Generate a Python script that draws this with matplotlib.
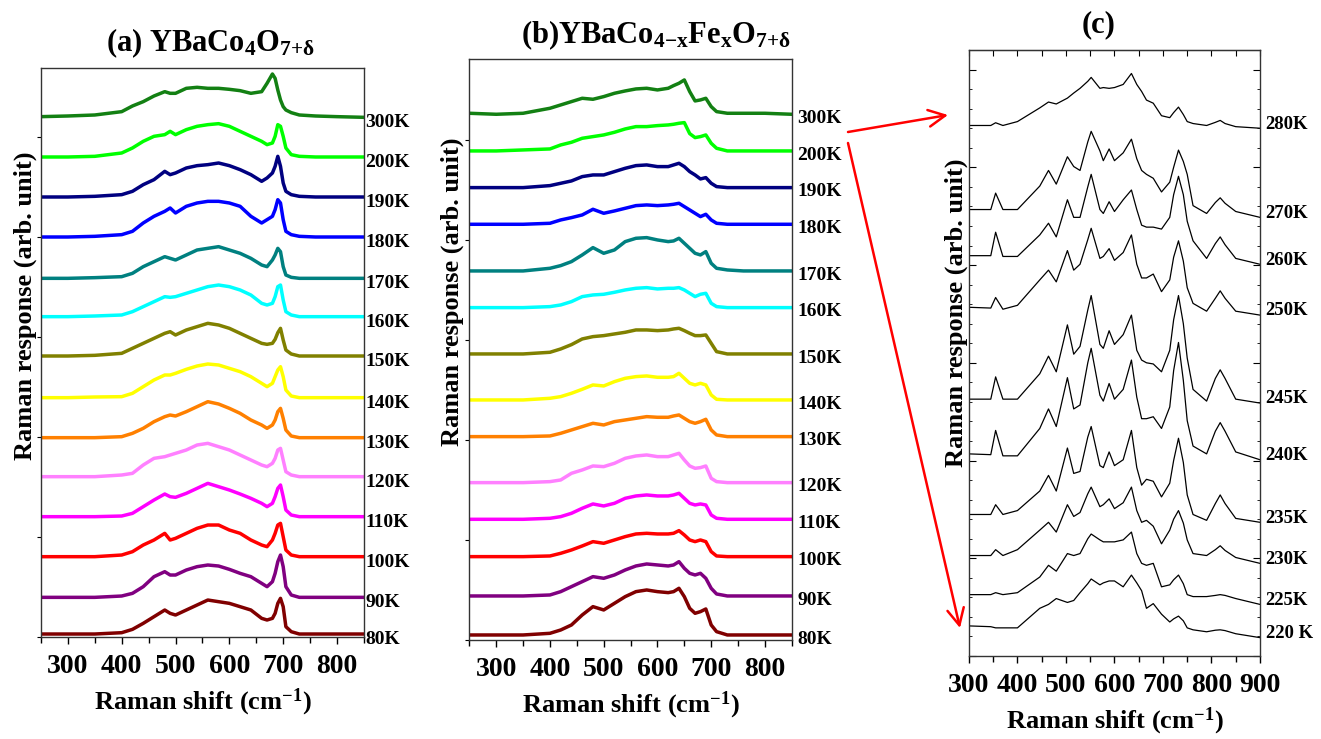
import matplotlib
matplotlib.use("Agg")
import matplotlib.pyplot as plt
from matplotlib.patches import FancyArrowPatch
from matplotlib.ticker import MultipleLocator, NullFormatter

plt.rcParams['font.family'] = ['Liberation Serif', 'DejaVu Serif']
plt.rcParams['font.weight'] = 'bold'
plt.rcParams['mathtext.fontset'] = 'custom'
plt.rcParams['mathtext.rm'] = 'Liberation Serif:bold'
plt.rcParams['mathtext.bf'] = 'Liberation Serif:bold'
plt.rcParams['mathtext.it'] = 'Liberation Serif:bold'
plt.rcParams['mathtext.default'] = 'bf'

# ---------------- panel (a) YBaCo4O7+d ----------------
temps_ab = ['300K', '200K', '190K', '180K', '170K', '160K', '150K',
            '140K', '130K', '120K', '110K', '100K', '90K', '80K']
colors_ab = ['#138013', '#00ff00', '#000080', '#0000ff', '#008080', '#00ffff', '#808000',
             '#ffff00', '#ff8000', '#ff80ff', '#ff00ff', '#ff0000', '#800080', '#800000']

shift_a = [250, 300, 350, 400, 420, 440, 460, 480, 490, 500, 520, 540, 560, 580, 600,
           620, 640, 660, 670, 680, 685, 690, 695, 700, 705, 715, 730, 760, 800, 850]
offset_a = [1561, 1440, 1320, 1200, 1076, 961, 843, 718, 598, 481, 361, 241, 119, 9]

a_300K = [0, 2, 5, 15, 32, 45, 62, 75, 70, 70, 85, 88, 85, 85, 82, 78, 70, 75, 100, 128, 115, 80, 50, 30, 20, 12, 5, 2, 0, -2]
a_200K = [0, 0, 2, 12, 27, 47, 62, 67, 77, 67, 82, 92, 97, 100, 92, 77, 62, 47, 37, 42, 62, 97, 92, 62, 27, 7, 2, 0, 0, 0]
a_190K = [0, 0, 2, 7, 17, 37, 52, 77, 67, 72, 87, 94, 97, 102, 94, 82, 67, 47, 57, 72, 92, 122, 92, 42, 17, 7, 2, 0, 0, 0]
a_180K = [0, 0, 2, 7, 17, 42, 62, 77, 87, 72, 92, 102, 107, 107, 102, 92, 62, 42, 52, 62, 82, 112, 102, 52, 17, 7, 2, 0, 0, 0]
a_170K = [0, 0, 2, 5, 15, 35, 50, 65, 60, 55, 70, 85, 90, 95, 85, 75, 60, 40, 35, 55, 70, 90, 80, 35, 10, 3, 0, 0, 0, 0]
a_160K = [0, 0, 2, 5, 15, 30, 45, 60, 58, 60, 70, 80, 90, 95, 90, 80, 65, 40, 35, 40, 60, 90, 95, 50, 15, 5, 0, 0, 0, 0]
a_150K = [0, 0, 2, 8, 23, 38, 53, 68, 73, 63, 78, 88, 98, 93, 83, 68, 53, 38, 35, 38, 50, 70, 83, 48, 18, 6, 0, 0, 0, 0]
a_140K = [0, 0, 2, 3, 13, 33, 53, 68, 68, 73, 85, 95, 101, 98, 88, 78, 63, 43, 33, 43, 63, 83, 93, 63, 23, 5, 0, 0, 0, 0]
a_130K = [0, 0, 0, 3, 13, 28, 48, 63, 68, 65, 78, 93, 108, 101, 88, 73, 53, 38, 28, 38, 53, 78, 88, 58, 23, 5, 0, 0, 0, 0]
a_120K = [0, 0, 0, 5, 10, 35, 55, 60, 65, 70, 80, 95, 100, 90, 80, 65, 50, 35, 30, 40, 55, 80, 85, 50, 15, 5, 0, 0, 0, 0]
a_110K = [0, 0, 0, 2, 10, 30, 50, 68, 60, 58, 70, 85, 100, 90, 80, 68, 55, 40, 30, 40, 60, 85, 95, 60, 20, 5, 0, 0, 0, 0]
a_100K = [0, 0, 0, 5, 15, 35, 50, 70, 50, 55, 70, 85, 95, 95, 80, 70, 50, 35, 30, 50, 70, 95, 100, 60, 20, 5, 0, 0, 0, 0]
a_90K = [0, 0, 0, 4, 12, 32, 62, 77, 67, 67, 82, 92, 97, 94, 84, 72, 62, 42, 32, 47, 72, 107, 127, 92, 32, 7, 0, 0, 0, 0]
a_80K = [0, 0, 0, 4, 14, 32, 52, 72, 62, 57, 72, 87, 102, 97, 92, 82, 72, 47, 42, 47, 62, 92, 107, 82, 22, 7, 0, 0, 0, 0]
spectra_a = [a_300K, a_200K, a_190K, a_180K, a_170K, a_160K, a_150K,
             a_140K, a_130K, a_120K, a_110K, a_100K, a_90K, a_80K]

# ---------------- panel (b) YBaCo4-xFexO7+d ----------------
shift_b = [250, 300, 350, 400, 420, 440, 460, 480, 500, 520, 540, 560, 580, 600,
           620, 630, 640, 650, 660, 670, 680, 690, 700, 710, 730, 760, 800, 850]
offset_b = [1580, 1467, 1357, 1247, 1107, 997, 858, 720, 610, 472, 362, 250, 132, 15]

b_300K = [0, -3, 0, 15, 25, 35, 45, 42, 50, 60, 67, 73, 75, 70, 75, 83, 90, 100, 65, 37, 40, 45, 20, 5, 0, 0, 0, -3]
b_200K = [0, 0, 3, 6, 18, 26, 38, 43, 48, 56, 66, 73, 73, 76, 78, 80, 83, 85, 52, 40, 43, 48, 23, 8, 0, 0, 0, 0]
b_190K = [0, 0, 0, 6, 13, 20, 33, 38, 38, 48, 58, 66, 68, 63, 63, 68, 73, 63, 48, 38, 26, 30, 13, 3, 0, 0, 0, 0]
b_180K = [0, 0, 0, 3, 13, 20, 28, 45, 33, 40, 48, 56, 58, 56, 58, 60, 63, 53, 43, 33, 23, 30, 13, 3, 0, 0, 0, 0]
b_170K = [0, 0, 0, 8, 16, 28, 48, 70, 53, 63, 88, 98, 100, 93, 88, 90, 98, 83, 68, 53, 48, 58, 23, 8, 3, 0, 0, 0]
b_160K = [0, 0, 0, 3, 8, 18, 33, 38, 40, 46, 53, 58, 60, 56, 58, 58, 60, 53, 43, 33, 40, 43, 13, 3, 0, 0, 0, 0]
b_150K = [0, 0, 0, 5, 15, 28, 45, 52, 55, 60, 65, 72, 72, 70, 72, 75, 77, 70, 62, 55, 55, 57, 32, 7, 0, 0, 0, 0]
b_140K = [0, 0, 0, 5, 10, 20, 32, 45, 42, 55, 65, 70, 72, 68, 68, 70, 80, 65, 50, 45, 50, 45, 15, 2, 0, 0, 0, 0]
b_130K = [0, 0, 0, 2, 10, 20, 30, 40, 35, 45, 50, 55, 60, 58, 58, 62, 65, 55, 45, 40, 45, 52, 20, 5, 0, 0, 0, 0]
b_120K = [0, 0, 0, 3, 8, 28, 38, 50, 48, 58, 73, 80, 83, 78, 78, 83, 88, 68, 50, 43, 45, 50, 13, 3, 0, 0, 0, 0]
b_110K = [0, 0, 0, 3, 8, 18, 33, 46, 40, 48, 63, 70, 73, 70, 70, 73, 78, 63, 48, 43, 46, 43, 13, 3, 0, 0, 0, 0]
b_100K = [0, 0, 0, 2, 10, 20, 32, 45, 40, 50, 60, 68, 70, 68, 68, 70, 78, 65, 50, 45, 50, 45, 15, 2, 0, 0, 0, 0]
b_90K = [0, 0, 0, 3, 13, 28, 43, 58, 53, 63, 78, 90, 96, 93, 90, 93, 103, 83, 68, 63, 68, 53, 23, 6, 0, 0, 0, 0]
b_80K = [0, 0, 0, 5, 15, 30, 60, 85, 75, 95, 115, 130, 135, 130, 127, 130, 140, 115, 80, 65, 70, 78, 30, 10, 0, 0, 0, 0]
spectra_b = [b_300K, b_200K, b_190K, b_180K, b_170K, b_160K, b_150K,
             b_140K, b_130K, b_120K, b_110K, b_100K, b_90K, b_80K]

# ---------------- panel (c) zoom of the transition region ----------------
temps_c = ['280K', '270K', '260K', '250K', '245K', '240K', '235K', '230K', '225K', '220 K']
shift_c = [300, 345, 355, 370, 400, 446, 464, 480, 503, 516, 529, 545, 552, 570, 577, 589, 600, 618,
           635, 646, 656, 666, 680, 697, 714, 722, 732, 742, 750, 762, 790, 808, 818, 828, 850, 900]

c_280K = [1357, 1357, 1364, 1357, 1367, 1402, 1417, 1412, 1427, 1440, 1452, 1470, 1480, 1452, 1454, 1452, 1454, 1462,
          1490, 1462, 1444, 1422, 1414, 1382, 1377, 1390, 1404, 1385, 1367, 1362, 1357, 1365, 1370, 1362, 1354, 1350]
c_270K = [1142, 1142, 1184, 1142, 1142, 1202, 1242, 1207, 1277, 1252, 1242, 1315, 1342, 1292, 1267, 1297, 1267, 1287,
          1322, 1272, 1242, 1232, 1222, 1187, 1212, 1250, 1294, 1265, 1232, 1152, 1132, 1160, 1172, 1158, 1137, 1122]
c_260K = [1024, 1024, 1084, 1022, 1022, 1077, 1107, 1072, 1167, 1122, 1122, 1200, 1232, 1142, 1132, 1162, 1137, 1167,
          1192, 1142, 1102, 1097, 1097, 1092, 1122, 1180, 1227, 1180, 1112, 1062, 1017, 1055, 1072, 1052, 1017, 1002]
c_250K = [892, 890, 917, 887, 897, 962, 987, 957, 1037, 987, 1002, 1065, 1094, 1017, 1022, 1042, 1012, 1032,
          1077, 1002, 967, 967, 977, 932, 962, 1020, 1062, 1010, 942, 902, 882, 915, 934, 915, 882, 872]
c_245K = [657, 657, 714, 657, 657, 722, 767, 727, 847, 772, 792, 885, 922, 797, 787, 832, 797, 822,
          872, 782, 757, 750, 747, 727, 782, 860, 922, 850, 762, 682, 652, 710, 732, 710, 657, 647]
c_240K = [517, 515, 577, 512, 512, 582, 632, 587, 712, 632, 642, 750, 787, 667, 652, 697, 657, 682,
          757, 662, 607, 607, 612, 582, 637, 730, 802, 705, 602, 537, 517, 575, 597, 575, 522, 502]
c_235K = [362, 362, 387, 362, 372, 422, 462, 422, 532, 467, 472, 560, 587, 487, 482, 522, 487, 502,
          577, 482, 437, 452, 447, 407, 442, 500, 557, 495, 412, 362, 347, 390, 412, 390, 352, 342]
c_230K = [257, 257, 272, 257, 272, 322, 342, 317, 387, 357, 367, 415, 432, 382, 387, 402, 377, 392,
          432, 372, 342, 347, 332, 287, 322, 350, 372, 340, 297, 262, 257, 272, 282, 270, 252, 237]
c_225K = [157, 157, 162, 157, 162, 202, 232, 217, 262, 257, 262, 300, 312, 297, 292, 292, 292, 297,
          317, 262, 237, 232, 237, 177, 182, 195, 207, 185, 157, 152, 152, 155, 157, 155, 147, 132]
c_220K = [77, 75, 72, 72, 72, 122, 132, 147, 137, 142, 162, 185, 197, 182, 187, 192, 192, 177,
          207, 187, 167, 122, 134, 107, 87, 95, 102, 90, 72, 67, 62, 66, 67, 65, 57, 47]
spectra_c = [c_280K, c_270K, c_260K, c_250K, c_245K, c_240K, c_235K, c_230K, c_225K, c_220K]

fig = plt.figure(figsize=(13.21, 7.39), dpi=100)
ax_a = fig.add_axes([0.0310, 0.1380, 0.2445, 0.7700])
ax_b = fig.add_axes([0.3553, 0.1340, 0.2441, 0.7858])
ax_c = fig.add_axes([0.7335, 0.1123, 0.2203, 0.8200])

label_font = dict(fontsize=19, fontweight='bold')


def style_axis(ax, xmin, xmax, ymax):
    ax.set_xlim(xmin, xmax)
    ax.set_ylim(0, ymax)
    ax.xaxis.set_major_locator(MultipleLocator(100))
    ax.xaxis.set_minor_locator(MultipleLocator(50))
    ax.tick_params(axis='x', which='major', direction='out', length=5, width=1,
                   pad=7, labelsize=20)
    ax.tick_params(axis='x', which='minor', direction='out', length=4, width=1)
    ax.set_xlabel('Raman shift (cm$^{-1}$)', labelpad=6, **label_font)
    ax.set_ylabel('Raman response (arb. unit)', **label_font)
    for s in ax.spines.values():
        s.set_linewidth(1.0)
        s.set_color('#333333')


# panel (a)
for spec, off, col, t in zip(spectra_a, offset_a, colors_ab, temps_ab):
    y = [v + off for v in spec]
    ax_a.plot(shift_a, y, color=col, lw=2.5, solid_joinstyle='round')
    ax_a.annotate(t, xy=(1.0, y[-1]), xycoords=('axes fraction', 'data'),
                  xytext=(1, -4), textcoords='offset points', ha='left', va='center',
                  fontsize=14, fontweight='bold', annotation_clip=False)
style_axis(ax_a, 250, 850, 1707)
ax_a.yaxis.set_major_locator(MultipleLocator(300))
ax_a.yaxis.set_major_formatter(NullFormatter())
ax_a.tick_params(axis='y', direction='out', length=3)
ax_a.yaxis.set_label_coords(-0.013, 0.583)
ax_a.text(0.526, 1.03, r'(a) YBaCo$_4$O$_{7{+}δ}$', transform=ax_a.transAxes,
          ha='center', va='baseline', fontsize=22, fontweight='bold')

# panel (b)
for spec, off, col, t in zip(spectra_b, offset_b, colors_ab, temps_ab):
    y = [v + off for v in spec]
    ax_b.plot(shift_b, y, color=col, lw=2.5, solid_joinstyle='round')
    ax_b.annotate(t, xy=(1.0, y[-1]), xycoords=('axes fraction', 'data'),
                  xytext=(4, -3), textcoords='offset points', ha='left', va='center',
                  fontsize=14, fontweight='bold', annotation_clip=False)
style_axis(ax_b, 250, 850, 1742)
ax_b.yaxis.set_major_locator(MultipleLocator(300))
ax_b.yaxis.set_major_formatter(NullFormatter())
ax_b.tick_params(axis='y', direction='out', length=3)
ax_b.yaxis.set_label_coords(-0.016, 0.599)
ax_b.text(0.579, 1.028, r'(b)YBaCo$_{4{-}x}$Fe$_x$O$_{7{+}δ}$', transform=ax_b.transAxes,
          ha='center', va='baseline', fontsize=22, fontweight='bold')

# panel (c)
for spec, t in zip(spectra_c, temps_c):
    ax_c.plot(shift_c, spec, color='black', lw=0.9)
    ax_c.annotate(t, xy=(1.0, spec[-1]), xycoords=('axes fraction', 'data'),
                  xytext=(4, 3), textcoords='offset points', ha='left', va='center',
                  fontsize=13.5, fontweight='bold', annotation_clip=False)
style_axis(ax_c, 300, 900, 1550)
ax_c.yaxis.set_major_locator(MultipleLocator(250))
ax_c.yaxis.set_minor_locator(MultipleLocator(50))
ax_c.yaxis.set_major_formatter(NullFormatter())
ax_c.tick_params(axis='y', which='major', direction='in', length=5, left=True, right=True)
ax_c.tick_params(axis='y', which='minor', direction='in', length=2.5, left=True, right=True)
top = ax_c.secondary_xaxis('top')
top.xaxis.set_major_locator(MultipleLocator(50))
top.xaxis.set_major_formatter(NullFormatter())
top.tick_params(direction='in', length=4)
ax_c.yaxis.set_label_coords(-0.004, 0.566)
ax_c.text(0.447, 1.03, '(c)', transform=ax_c.transAxes,
          ha='center', va='baseline', fontsize=22, fontweight='bold')


def px(x, y):
    return (x / 1321.0, 1 - y / 739.0)


arrow_kw = dict(transform=fig.transFigure, color='red', lw=1.8,
                arrowstyle='->,head_length=12,head_width=6', mutation_scale=1,
                shrinkA=0, shrinkB=0)
fig.add_artist(FancyArrowPatch(px(848, 132), px(948, 115), **arrow_kw))
fig.add_artist(FancyArrowPatch(px(848, 143), px(960, 628), **arrow_kw))

fig.savefig('out.png', dpi=100)
